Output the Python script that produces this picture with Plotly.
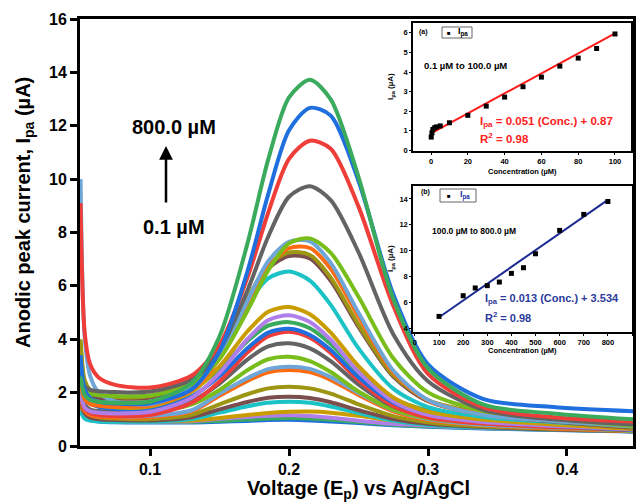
import plotly.graph_objects as go

W, H = 637, 502
FONT = "Arial, Liberation Sans, sans-serif"

# ---------------- main chart data ----------------
voltage = [0.050, 0.053, 0.057, 0.063, 0.075, 0.100, 0.130, 0.150, 0.170, 0.185,
           0.200, 0.215, 0.230, 0.250, 0.275, 0.300, 0.340, 0.390, 0.448]

ipa_800 = [2.60, 1.90, 1.73, 1.66, 1.62, 1.66, 2.36, 4.11, 7.57, 10.73, 13.06, 13.72, 12.99, 10.08, 5.52, 2.91, 1.55, 1.22, 1.00]
ipa_700 = [3.40, 2.11, 1.79, 1.66, 1.59, 1.60, 2.12, 3.54, 6.53, 9.43, 11.83, 12.67, 12.38, 9.93, 5.69, 3.06, 1.76, 1.46, 1.30]
ipa_600 = [9.10, 4.24, 3.05, 2.57, 2.29, 2.19, 2.64, 3.79, 6.30, 8.74, 10.76, 11.44, 11.14, 8.97, 5.26, 2.70, 1.45, 1.08, 0.92]
ipa_500 = [2.80, 2.24, 2.10, 2.05, 2.02, 2.04, 2.50, 3.59, 5.82, 7.84, 9.34, 9.73, 9.21, 7.26, 4.19, 2.43, 1.35, 1.00, 0.80]
ipa_450 = [2.60, 2.08, 1.95, 1.90, 1.87, 1.89, 2.31, 3.26, 5.06, 6.58, 7.59, 7.78, 7.24, 5.59, 3.29, 2.01, 1.31, 1.02, 0.76]
ipa_400 = [10.0, 4.05, 2.61, 2.01, 1.67, 1.57, 2.16, 3.39, 5.43, 6.92, 7.65, 7.67, 6.86, 4.99, 2.83, 1.72, 1.16, 0.94, 0.74]
ipa_350 = [2.40, 1.74, 1.57, 1.51, 1.47, 1.52, 2.09, 3.28, 5.25, 6.70, 7.41, 7.42, 6.64, 4.85, 2.76, 1.70, 1.18, 0.96, 0.79]
ipa_300 = [4.00, 2.46, 2.09, 1.93, 1.84, 1.87, 2.48, 3.66, 5.52, 6.78, 7.25, 7.16, 6.31, 4.55, 2.66, 1.72, 1.23, 0.95, 0.71]
ipa_250 = [2.60, 2.01, 1.86, 1.80, 1.77, 1.82, 2.42, 3.58, 5.41, 6.65, 7.12, 7.03, 6.19, 4.46, 2.60, 1.68, 1.18, 0.92, 0.68]
ipa_200 = [2.30, 1.74, 1.60, 1.55, 1.52, 1.60, 2.33, 3.59, 5.32, 6.28, 6.54, 6.20, 5.29, 3.66, 2.15, 1.46, 1.09, 0.89, 0.71]
ipa_100 = [3.90, 2.15, 1.73, 1.55, 1.45, 1.48, 2.03, 2.98, 4.29, 5.03, 5.21, 4.94, 4.25, 2.99, 1.82, 1.29, 0.99, 0.81, 0.64]
ipa_90 = [2.00, 1.44, 1.30, 1.25, 1.22, 1.28, 1.81, 2.73, 4.00, 4.71, 4.90, 4.65, 3.98, 2.78, 1.68, 1.17, 0.90, 0.76, 0.62]
ipa_80 = [2.50, 1.87, 1.72, 1.65, 1.62, 1.66, 2.12, 2.88, 3.93, 4.51, 4.64, 4.41, 3.82, 2.77, 1.79, 1.33, 1.03, 0.84, 0.64]
ipa_70 = [3.30, 1.94, 1.60, 1.47, 1.39, 1.41, 1.86, 2.62, 3.66, 4.25, 4.39, 4.16, 3.60, 2.58, 1.63, 1.19, 0.92, 0.76, 0.60]
ipa_60 = [2.10, 1.40, 1.23, 1.16, 1.12, 1.16, 1.62, 2.42, 3.50, 4.11, 4.28, 4.06, 3.49, 2.46, 1.50, 1.07, 0.84, 0.71, 0.60]
ipa_50 = [2.20, 1.54, 1.37, 1.31, 1.27, 1.30, 1.69, 2.34, 3.24, 3.73, 3.85, 3.66, 3.18, 2.30, 1.48, 1.10, 0.88, 0.73, 0.59]
ipa_40 = [2.00, 1.44, 1.30, 1.25, 1.22, 1.25, 1.56, 2.10, 2.84, 3.25, 3.34, 3.18, 2.77, 2.04, 1.36, 1.04, 0.84, 0.71, 0.57]
ipa_30 = [2.30, 1.46, 1.26, 1.17, 1.12, 1.13, 1.34, 1.97, 2.54, 2.88, 2.97, 2.89, 2.58, 1.99, 1.35, 1.01, 0.80, 0.69, 0.57]
ipa_20 = [1.90, 1.31, 1.16, 1.10, 1.07, 1.08, 1.30, 1.88, 2.44, 2.76, 2.85, 2.77, 2.48, 1.91, 1.30, 0.97, 0.78, 0.66, 0.56]
ipa_10 = [2.40, 1.42, 1.18, 1.08, 1.03, 1.01, 1.17, 1.56, 1.94, 2.16, 2.22, 2.16, 1.96, 1.56, 1.12, 0.89, 0.74, 0.65, 0.56]
ipa_5 = [1.80, 1.21, 1.06, 1.00, 0.97, 0.96, 1.08, 1.37, 1.65, 1.81, 1.85, 1.80, 1.64, 1.34, 1.01, 0.83, 0.71, 0.62, 0.55]
ipa_3 = [1.30, 1.02, 0.95, 0.92, 0.91, 0.91, 1.01, 1.25, 1.49, 1.62, 1.66, 1.62, 1.48, 1.23, 0.95, 0.79, 0.69, 0.62, 0.55]
ipa_2 = [1.60, 1.15, 1.03, 0.99, 0.96, 0.95, 0.96, 1.05, 1.16, 1.24, 1.28, 1.29, 1.25, 1.13, 0.95, 0.81, 0.71, 0.64, 0.57]
ipa_1 = [1.40, 1.06, 0.98, 0.95, 0.93, 0.92, 0.93, 1.02, 1.09, 1.13, 1.15, 1.12, 1.06, 0.95, 0.83, 0.76, 0.68, 0.62, 0.55]
ipa_0_5 = [1.50, 1.08, 0.98, 0.94, 0.91, 0.90, 0.90, 0.94, 0.99, 1.03, 1.05, 1.03, 0.98, 0.90, 0.80, 0.74, 0.67, 0.61, 0.55]
ipa_0_1 = [1.50, 1.07, 0.96, 0.92, 0.89, 0.88, 0.88, 0.91, 0.94, 0.97, 0.98, 0.96, 0.92, 0.86, 0.78, 0.72, 0.66, 0.60, 0.54]

curve_labels = ["800", "700", "600", "500", "450", "400", "350", "300", "250", "200",
                "100", "90", "80", "70", "60", "50", "40", "30", "20", "10",
                "5", "3", "2", "1", "0.5", "0.1"]
curve_colors = ["#3aaa5c", "#1f6fdf", "#ef3e3a", "#636363", "#79bd1b", "#6ea6d8",
                "#ff6b11", "#9c9612", "#7b4e4e", "#1cc3c6", "#c99c00", "#b07ee8",
                "#3aaa5c", "#1f6fdf", "#ef3e3a", "#636363", "#79bd1b", "#6ea6d8",
                "#ff6b11", "#9c9612", "#7b4e4e", "#1cc3c6", "#c99c00", "#b07ee8",
                "#3aaa5c", "#1f6fdf"]

# ---------------- inset (a) data ----------------
conc_a = [0.1, 0.5, 1, 2, 3, 5, 10, 20, 30, 40, 50, 60, 70, 80, 90, 100]
ipa_a = [0.68, 0.90, 1.07, 1.16, 1.20, 1.25, 1.41, 1.79, 2.26, 2.72, 3.25, 3.74, 4.30, 4.71, 5.20, 5.94]
fit_a_x = [0, 100]
fit_a_y = [0.87, 5.97]

# ---------------- inset (b) data ----------------
conc_b = [100, 200, 250, 300, 350, 400, 450, 500, 600, 700, 800]
ipa_b = [4.90, 6.50, 7.10, 7.28, 7.56, 8.23, 8.67, 9.75, 11.56, 12.80, 13.80]
fit_b_x = [100, 800]
fit_b_y = [4.83, 13.93]


def px(x):
    return x / W


def py(y):
    return 1 - y / H


curves = [ipa_800, ipa_700, ipa_600, ipa_500, ipa_450, ipa_400, ipa_350, ipa_300,
          ipa_250, ipa_200, ipa_100, ipa_90, ipa_80, ipa_70, ipa_60, ipa_50, ipa_40,
          ipa_30, ipa_20, ipa_10, ipa_5, ipa_3, ipa_2, ipa_1, ipa_0_5, ipa_0_1]

fig = go.Figure()

for i in reversed(range(len(curves))):
    fig.add_trace(go.Scatter(
        x=voltage, y=curves[i], mode="lines", name=curve_labels[i] + " µM",
        line=dict(color=curve_colors[i], width=4, shape="spline", smoothing=0.8),
        xaxis="x", yaxis="y", showlegend=False, hoverinfo="skip"))

fig.add_trace(go.Scatter(x=fit_a_x, y=fit_a_y, mode="lines",
                         line=dict(color="#ff1a1a", width=2), xaxis="x2", yaxis="y2",
                         showlegend=False))
fig.add_trace(go.Scatter(x=conc_a, y=ipa_a, mode="markers",
                         marker=dict(symbol="square", size=5, color="black"),
                         xaxis="x2", yaxis="y2", showlegend=False))
fig.add_trace(go.Scatter(x=fit_b_x, y=fit_b_y, mode="lines",
                         line=dict(color="#1b2b91", width=2), xaxis="x3", yaxis="y3",
                         showlegend=False))
fig.add_trace(go.Scatter(x=conc_b, y=ipa_b, mode="markers",
                         marker=dict(symbol="square", size=5, color="black"),
                         xaxis="x3", yaxis="y3", showlegend=False))

main_ax = dict(showline=True, linewidth=3, linecolor="black", mirror=True,
               ticks="outside", ticklen=7, tickwidth=2.5, tickcolor="black",
               showgrid=False, zeroline=False,
               tickfont=dict(family=FONT, size=16, color="black", weight="bold"))
in_ax = dict(showline=True, linewidth=1.5, linecolor="black", mirror=True,
             ticks="outside", ticklen=2, tickwidth=1.2, tickcolor="black",
             showgrid=False, zeroline=False,
             tickfont=dict(family=FONT, size=7.5, color="black", weight="bold"))

fig.update_layout(
    width=W, height=H, margin=dict(l=0, r=0, t=0, b=0, autoexpand=False),
    paper_bgcolor="white", plot_bgcolor="white", showlegend=False,
    xaxis=dict(domain=[px(80), px(633)], range=[0.0496, 0.4475],
               tickvals=[0.1, 0.2, 0.3, 0.4], ticktext=["0.1", "0.2", "0.3", "0.4"],
               anchor="y", **main_ax),
    yaxis=dict(domain=[py(446), py(19)], range=[0, 16], tickvals=list(range(0, 17, 2)),
               anchor="x", **main_ax),
    xaxis2=dict(domain=[px(413), px(631)], range=[-9.8, 108.7],
                tickvals=[0, 20, 40, 60, 80, 100], anchor="y2", **in_ax),
    yaxis2=dict(domain=[py(151), py(23)], range=[-0.03, 6.5],
                tickvals=[0, 1, 2, 3, 4, 5, 6], anchor="x2", **in_ax),
    xaxis3=dict(domain=[px(413), px(632)], range=[-8, 900],
                tickvals=list(range(0, 901, 100)), anchor="y3", **in_ax),
    yaxis3=dict(domain=[py(332), py(186)], range=[3.69, 15.0],
                tickvals=[4, 6, 8, 10, 12, 14], anchor="x3", **in_ax),
)

ann = []


def text(x, y, s, size, color="black", xanchor="center", angle=0, bold=True):
    ann.append(dict(x=px(x), y=py(y), xref="paper", yref="paper", text=s,
                    showarrow=False, xanchor=xanchor, yanchor="middle",
                    textangle=angle,
                    font=dict(family=FONT, size=size, color=color,
                              weight="bold" if bold else "normal")))


text(24, 213, "Anodic peak current, I<sub>pa</sub> (µA)", 20, angle=-90)
text(358, 489, "Voltage (E<sub>p</sub>) vs Ag/AgCl", 20)
text(174, 127, "800.0 µM", 20)
text(174, 227, "0.1 µM", 20)
ann.append(dict(x=px(166), y=py(146), xref="paper", yref="paper", text="",
                showarrow=True, ax=0, ay=58, axref="pixel", ayref="pixel",
                arrowhead=2, arrowsize=1.1, arrowwidth=2.5, arrowcolor="black"))

text(522, 172, "Concentration (µM)", 7.5)
text(391, 87, "I<sub>pa</sub> (µA)", 8, angle=-90)
text(423, 32, "(a)", 7)
text(449, 33, "■", 6)
text(463, 32, "I<sub>pa</sub>", 9)
text(422, 65, "0.1 µM to 100.0 µM", 9.5, xanchor="left")
text(478, 122, "I<sub>pa</sub> = 0.051 (Conc.) + 0.87", 11.5, color="#ff2020", xanchor="left")
text(478, 138, "R<sup>2</sup> = 0.98", 11.5, color="#ff2020", xanchor="left")

text(522, 350, "Concentration (µM)", 7.5)
text(391, 259, "I<sub>pa</sub> (µA)", 8, angle=-90)
text(425, 192, "(b)", 7)
text(449, 196, "■", 6)
text(465, 195, "I<sub>pa</sub>", 9, color="#2233aa")
text(430, 231, "100.0 µM to 800.0 µM", 8.5, xanchor="left")
text(483, 299, "I<sub>pa</sub> = 0.013 (Conc.) + 3.534", 11, color="#2b3a9c", xanchor="left")
text(483, 317, "R<sup>2</sup> = 0.98", 11, color="#2b3a9c", xanchor="left")

fig.update_layout(annotations=ann, shapes=[
    dict(type="rect", xref="paper", yref="paper", x0=px(442), x1=px(472),
         y0=py(38), y1=py(27), line=dict(color="#666666", width=1), fillcolor="white",
         layer="above"),
    dict(type="rect", xref="paper", yref="paper", x0=px(440), x1=px(476),
         y0=py(202), y1=py(189), line=dict(color="#666666", width=1), fillcolor="rgba(0,0,0,0)",
         layer="above"),
])

fig.write_html("out.html")
